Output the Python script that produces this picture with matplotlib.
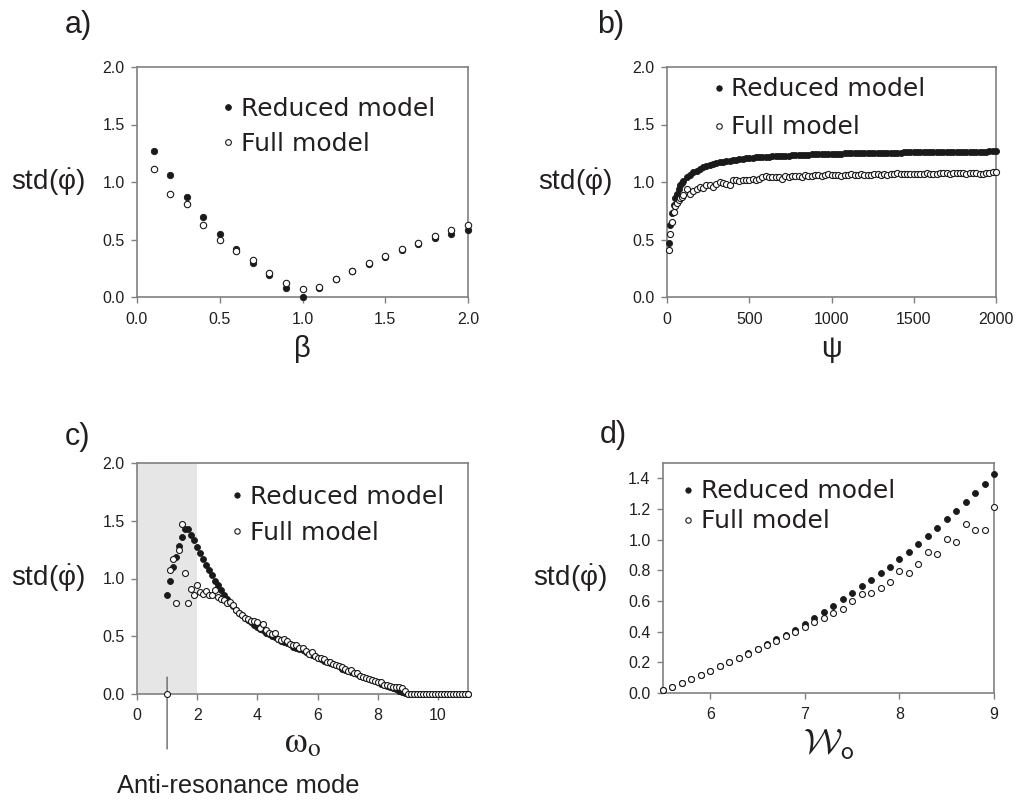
import matplotlib
matplotlib.use("Agg")
import matplotlib.pyplot as plt

plt.rcParams['font.family'] = ['Liberation Sans', 'DejaVu Sans']
plt.rcParams['mathtext.fontset'] = 'custom'
plt.rcParams['mathtext.rm'] = 'Liberation Sans'
plt.rcParams['mathtext.it'] = 'Liberation Sans'

# ---- data ----
# a) std vs beta
beta = [0.1, 0.2, 0.3, 0.4, 0.5, 0.6, 0.7, 0.8, 0.9, 1.0,
        1.1, 1.2, 1.3, 1.4, 1.5, 1.6, 1.7, 1.8, 1.9, 2.0]
a_reduced = [1.27, 1.06, 0.87, 0.70, 0.55, 0.42, 0.30, 0.19, 0.08, 0.00,
             0.08, 0.155, 0.225, 0.29, 0.35, 0.405, 0.46, 0.51, 0.545, 0.58]
a_full = [1.11, 0.90, 0.81, 0.63, 0.50, 0.40, 0.32, 0.21, 0.12, 0.07,
          0.085, 0.16, 0.23, 0.30, 0.36, 0.42, 0.47, 0.53, 0.58, 0.63]

# b) std vs psi
psi = [10, 20, 30, 40, 50, 60, 70, 80, 90, 100,
       120, 140, 160, 180, 200, 220, 240, 260, 280, 300,
       320, 340, 360, 380, 400, 420, 440, 460, 480, 500,
       520, 540, 560, 580, 600, 620, 640, 660, 680, 700,
       720, 740, 760, 780, 800, 820, 840, 860, 880, 900,
       920, 940, 960, 980, 1000, 1020, 1040, 1060, 1080, 1100,
       1120, 1140, 1160, 1180, 1200, 1220, 1240, 1260, 1280, 1300,
       1320, 1340, 1360, 1380, 1400, 1420, 1440, 1460, 1480, 1500,
       1520, 1540, 1560, 1580, 1600, 1620, 1640, 1660, 1680, 1700,
       1720, 1740, 1760, 1780, 1800, 1820, 1840, 1860, 1880, 1900,
       1920, 1940, 1960, 1980, 2000]
b_reduced = [0.47, 0.63, 0.73, 0.80, 0.86, 0.90, 0.94, 0.97, 0.99, 1.01,
             1.04, 1.065, 1.085, 1.10, 1.115, 1.13, 1.14, 1.15, 1.16, 1.165,
             1.17, 1.175, 1.18, 1.185, 1.19, 1.195, 1.20, 1.20, 1.205, 1.21,
             1.21, 1.215, 1.215, 1.22, 1.22, 1.22, 1.225, 1.225, 1.225, 1.23,
             1.23, 1.23, 1.232, 1.235, 1.235, 1.235, 1.237, 1.238, 1.24, 1.24,
             1.24, 1.242, 1.243, 1.244, 1.245, 1.245, 1.246, 1.247, 1.248, 1.248,
             1.249, 1.25, 1.25, 1.25, 1.251, 1.252, 1.252, 1.253, 1.253, 1.254,
             1.254, 1.255, 1.255, 1.256, 1.256, 1.256, 1.257, 1.257, 1.258, 1.258,
             1.258, 1.259, 1.259, 1.26, 1.26, 1.26, 1.26, 1.261, 1.261, 1.262,
             1.262, 1.262, 1.263, 1.263, 1.263, 1.264, 1.264, 1.264, 1.265, 1.265,
             1.265, 1.265, 1.266, 1.266, 1.266]
b_full = [0.41, 0.55, 0.65, 0.74, 0.79, 0.82, 0.84, 0.86, 0.87, 0.89,
          0.94, 0.90, 0.92, 0.94, 0.96, 0.95, 0.97, 0.97, 0.96, 0.98,
          1.00, 0.99, 0.98, 0.97, 1.02, 1.02, 1.01, 1.02, 1.02, 1.02,
          1.03, 1.02, 1.03, 1.04, 1.05, 1.04, 1.04, 1.04, 1.04, 1.03,
          1.05, 1.04, 1.05, 1.05, 1.05, 1.04, 1.06, 1.05, 1.05, 1.06,
          1.06, 1.05, 1.06, 1.07, 1.06, 1.06, 1.06, 1.05, 1.06, 1.06,
          1.07, 1.06, 1.06, 1.07, 1.06, 1.06, 1.06, 1.07, 1.07, 1.06,
          1.07, 1.06, 1.07, 1.07, 1.08, 1.07, 1.07, 1.07, 1.07, 1.07,
          1.07, 1.07, 1.07, 1.08, 1.07, 1.07, 1.07, 1.08, 1.08, 1.08,
          1.07, 1.08, 1.08, 1.08, 1.08, 1.07, 1.08, 1.08, 1.08, 1.07,
          1.07, 1.08, 1.08, 1.09, 1.09]

# c) std vs omega_o
omega = [1.0, 1.1, 1.2, 1.3, 1.4, 1.5, 1.6, 1.7, 1.8, 1.9,
         2.0, 2.1, 2.2, 2.3, 2.4, 2.5, 2.6, 2.7, 2.8, 2.9,
         3.0, 3.1, 3.2, 3.3, 3.4, 3.5, 3.6, 3.7, 3.8, 3.9,
         4.0, 4.1, 4.2, 4.3, 4.4, 4.5, 4.6, 4.7, 4.8, 4.9,
         5.0, 5.1, 5.2, 5.3, 5.4, 5.5, 5.6, 5.7, 5.8, 5.9,
         6.0, 6.1, 6.2, 6.3, 6.4, 6.5, 6.6, 6.7, 6.8, 6.9,
         7.0, 7.1, 7.2, 7.3, 7.4, 7.5, 7.6, 7.7, 7.8, 7.9,
         8.0, 8.1, 8.2, 8.3, 8.4, 8.5, 8.6, 8.7, 8.8, 8.9,
         9.0, 9.1, 9.2, 9.3, 9.4, 9.5, 9.6, 9.7, 9.8, 9.9,
         10.0, 10.1, 10.2, 10.3, 10.4, 10.5, 10.6, 10.7, 10.8, 10.9, 11.0]
c_reduced = [0.86, 0.98, 1.10, 1.19, 1.28, 1.36, 1.43, 1.43, 1.38, 1.33,
             1.27, 1.22, 1.17, 1.12, 1.07, 1.03, 0.98, 0.94, 0.90, 0.86,
             0.82, 0.79, 0.76, 0.73, 0.70, 0.68, 0.66, 0.64, 0.62, 0.60,
             0.58, 0.56, 0.55, 0.53, 0.52, 0.50, 0.49, 0.48, 0.46, 0.45,
             0.44, 0.43, 0.41, 0.40, 0.39, 0.38, 0.36, 0.35, 0.34, 0.33,
             0.31, 0.30, 0.29, 0.28, 0.27, 0.26, 0.25, 0.24, 0.22, 0.21,
             0.20, 0.19, 0.18, 0.17, 0.16, 0.15, 0.14, 0.13, 0.12, 0.11,
             0.10, 0.09, 0.08, 0.07, 0.06, 0.05, 0.04, 0.03, 0.02, 0.01,
             0, 0, 0, 0, 0, 0, 0, 0, 0, 0,
             0, 0, 0, 0, 0, 0, 0, 0, 0, 0, 0]
c_full = [0.00, 1.07, 1.17, 0.79, 1.25, 1.47, 1.05, 0.79, 0.91, 0.86,
          0.94, 0.88, 0.87, 0.89, 0.86, 0.86, 0.90, 0.84, 0.82, 0.81,
          0.79, 0.80, 0.77, 0.73, 0.70, 0.68, 0.66, 0.65, 0.63, 0.63,
          0.62, 0.57, 0.61, 0.55, 0.53, 0.52, 0.53, 0.48, 0.47, 0.48,
          0.46, 0.43, 0.42, 0.42, 0.40, 0.40, 0.37, 0.35, 0.36, 0.33,
          0.31, 0.31, 0.30, 0.28, 0.28, 0.26, 0.25, 0.24, 0.23, 0.22,
          0.20, 0.21, 0.18, 0.18, 0.16, 0.15, 0.14, 0.13, 0.12, 0.11,
          0.10, 0.10, 0.08, 0.08, 0.07, 0.06, 0.06, 0.06, 0.05, 0.03,
          0, 0, 0, 0, 0, 0, 0, 0, 0, 0,
          0, 0, 0, 0, 0, 0, 0, 0, 0, 0, 0]

# d) std vs w_o
w = [5.5, 5.6, 5.7, 5.8, 5.9, 6.0, 6.1, 6.2, 6.3, 6.4,
     6.5, 6.6, 6.7, 6.8, 6.9, 7.0, 7.1, 7.2, 7.3, 7.4,
     7.5, 7.6, 7.7, 7.8, 7.9, 8.0, 8.1, 8.2, 8.3, 8.4,
     8.5, 8.6, 8.7, 8.8, 8.9, 9.0]
d_reduced = [0.02, 0.041, 0.065, 0.094, 0.12, 0.146, 0.174, 0.20, 0.228, 0.258,
             0.288, 0.318, 0.35, 0.38, 0.41, 0.45, 0.49, 0.53, 0.57, 0.61,
             0.653, 0.696, 0.737, 0.782, 0.825, 0.872, 0.92, 0.97, 1.023, 1.075,
             1.132, 1.186, 1.245, 1.305, 1.365, 1.43]
d_full = [0.02, 0.041, 0.065, 0.094, 0.12, 0.146, 0.174, 0.20, 0.226, 0.256,
          0.284, 0.312, 0.34, 0.37, 0.397, 0.43, 0.46, 0.49, 0.52, 0.55,
          0.60, 0.648, 0.652, 0.687, 0.724, 0.796, 0.783, 0.844, 0.922, 0.907,
          1.005, 0.983, 1.10, 1.06, 1.065, 1.213]

W, H = 1016, 801
INK = '#231f20'
GREY = '#808080'
YLAB = r'std($\dot{\varphi}$)'


def px_axes(fig, left, top, right, bottom):
    return fig.add_axes([left / W, 1 - bottom / H, (right - left) / W, (bottom - top) / H])


def style(ax, xpad=6.5):
    for s in ax.spines.values():
        s.set_color(GREY)
        s.set_linewidth(1.2)
    ax.tick_params(direction='out', length=4, width=1, color=GREY,
                   labelsize=11.5, labelcolor=INK)
    ax.tick_params(axis='x', pad=xpad, top=False)
    ax.tick_params(axis='y', pad=5, right=False)


def draw(ax, x, red, full, ms=4.0):
    ax.plot(x, red, 'o', ls='none', ms=ms, color='#1a1a1a', mec='#1a1a1a',
            mew=0.6, clip_on=False, zorder=3, label='Reduced model')
    ax.plot(x, full, 'o', ls='none', ms=ms, mfc='white', mec='#1a1a1a',
            mew=0.8, clip_on=False, zorder=4, label='Full model')


def legend(ax, x_frac, y_frac, spacing):
    ax.legend(loc='center left', bbox_to_anchor=(x_frac, y_frac), frameon=False,
              prop={'family': 'DejaVu Sans', 'size': 18}, handlelength=0.6,
              handletextpad=0.2, labelspacing=spacing, borderpad=0,
              borderaxespad=0, markerscale=0.9, labelcolor=INK)


def ylabel(ax, xcoord):
    ax.set_ylabel(YLAB, rotation=0, ha='right', va='center', fontsize=20, color=INK)
    ax.yaxis.set_label_coords(xcoord, 0.5)


fig = plt.figure(figsize=(W / 100, H / 100), dpi=100)

# a)
ax = px_axes(fig, 137, 67, 468, 297)
draw(ax, beta, a_reduced, a_full, ms=4.6)
ax.set_xlim(0, 2)
ax.set_ylim(0, 2)
ax.set_xticks([0, 0.5, 1.0, 1.5, 2.0])
ax.set_yticks([0, 0.5, 1.0, 1.5, 2.0])
ax.xaxis.set_major_formatter('{x:.1f}')
ax.yaxis.set_major_formatter('{x:.1f}')
style(ax)
legend(ax, 0.253, 0.743, 0.44)
ylabel(ax, -0.157)
ax.set_xlabel('β', fontsize=21, color=INK, labelpad=6)

# b)
ax = px_axes(fig, 667, 67, 996, 297)
draw(ax, psi, b_reduced, b_full, ms=4.4)
ax.set_xlim(0, 2000)
ax.set_ylim(0, 2)
ax.set_xticks([0, 500, 1000, 1500, 2000])
ax.set_yticks([0, 0.5, 1.0, 1.5, 2.0])
ax.yaxis.set_major_formatter('{x:.1f}')
style(ax)
legend(ax, 0.134, 0.82, 0.56)
ylabel(ax, -0.167)
ax.set_xlabel('ψ', fontsize=21, color=INK, labelpad=6)

# c)
ax = px_axes(fig, 137, 463, 468, 694)
ax.axvspan(0, 2, color='#e6e6e6', lw=0, zorder=0)
draw(ax, omega, c_reduced, c_full, ms=4.3)
ax.set_xlim(0, 11)
ax.set_ylim(0, 2)
ax.set_xticks([0, 2, 4, 6, 8, 10])
ax.set_yticks([0, 0.5, 1.0, 1.5, 2.0])
ax.yaxis.set_major_formatter('{x:.1f}')
style(ax, xpad=6)
legend(ax, 0.28, 0.777, 0.48)
ylabel(ax, -0.157)
ax.set_xlabel(r'$\mathrm{\omega}_{\mathrm{o}}$', fontsize=26, color=INK, labelpad=2,
              math_fontfamily='stix')
ax.annotate('', xy=(1.0, 0.17), xytext=(1.0, -0.50), xycoords='data',
            arrowprops=dict(arrowstyle='-', color='#666666', lw=1),
            annotation_clip=False)
fig.text(238 / W, 1 - 786 / H, 'Anti-resonance mode', ha='center', va='center',
         fontsize=18.4, color=INK)

# d)
ax = px_axes(fig, 663, 463, 994, 693)
draw(ax, w, d_reduced, d_full, ms=4.3)
ax.set_xlim(5.5, 9)
ax.set_ylim(0, 1.5)
ax.set_xticks([6, 7, 8, 9])
ax.set_yticks([0, 0.2, 0.4, 0.6, 0.8, 1.0, 1.2, 1.4])
ax.yaxis.set_major_formatter('{x:.1f}')
style(ax, xpad=6)
legend(ax, 0.054, 0.811, 0.24)
ylabel(ax, -0.169)
ax.set_xlabel(r'$\mathcal{W}_{\mathsf{o}}$', fontsize=26, color=INK, labelpad=4,
              math_fontfamily='cm')

# panel letters
for lab, xp, yp in [('a)', 65, 25), ('b)', 597, 25), ('c)', 65, 437), ('d)', 600, 435)]:
    fig.text(xp / W, 1 - yp / H, lab, ha='left', va='center', fontsize=22, color=INK)

fig.savefig('out.png', dpi=100)
